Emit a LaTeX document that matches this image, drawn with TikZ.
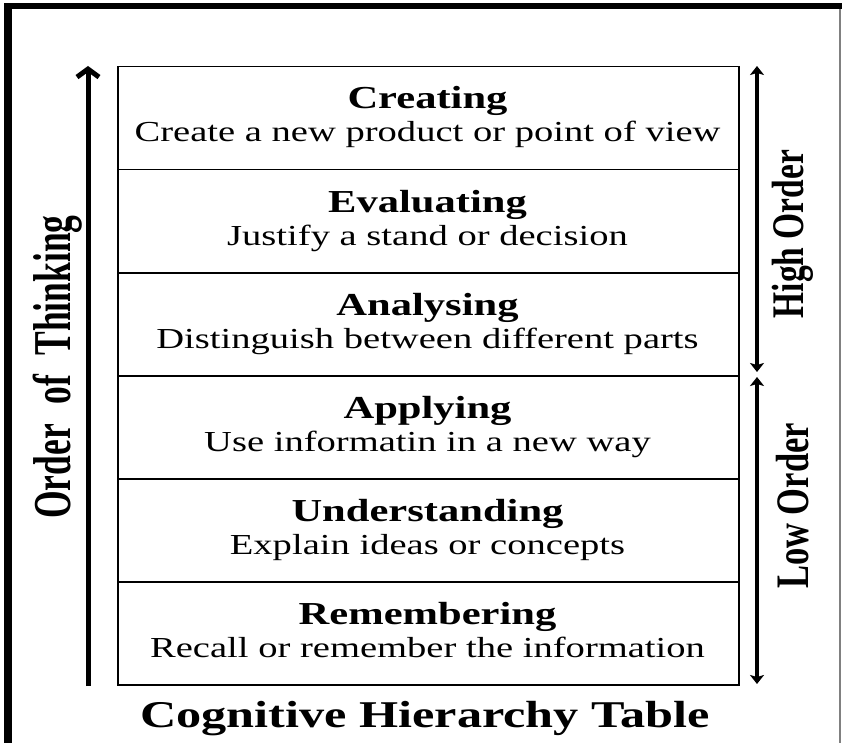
\documentclass[tikz,border=0pt]{standalone}
\usepackage{fontspec}
\usepackage{graphicx}
\setmainfont{Liberation Serif}
\usetikzlibrary{arrows.meta}
\newcommand\hstretch[1]{\scalebox{1.33}[1]{#1}}
\begin{document}
\begin{tikzpicture}[x=1pt,y=-1pt,
  rowbox/.style={draw=black,line width=1.5pt,minimum width=621pt,minimum height=103pt,anchor=north west,inner sep=0pt},
  ttl/.style={font=\fontsize{32}{36}\selectfont\bfseries,anchor=base,inner sep=0pt},
  sub/.style={font=\fontsize{29}{33}\selectfont,anchor=base,inner sep=0pt},
  vlab/.style={rotate=90,inner sep=0pt},
  bigarrow/.style={line width=5pt,-{Straight Barb[length=8pt,width=22pt]}},
  sidearrow/.style={line width=4.5pt,{Stealth[length=9pt,width=14pt,inset=2pt]}-{Stealth[length=9pt,width=14pt,inset=2pt]}}
]
\useasboundingbox (0,0) rectangle (842,743);
% outer frame
\fill[black] (4,4) rectangle (12,743);
\fill[black] (4,3) rectangle (842,9);
\draw[gray,line width=1.2pt] (840,9) -- (840,743);

% rows
\node[rowbox] (r1) at (117,66) {};
\node[rowbox] (r2) at (117,169) {};
\node[rowbox] (r3) at (117,272) {};
\node[rowbox] (r4) at (117,375) {};
\node[rowbox] (r5) at (117,478) {};
\node[rowbox] (r6) at (117,581) {};

\node[ttl] (t1) at (427.5,109) {\hstretch{Creating}};
\node[sub] (s1) at (427.5,142) {\hstretch{Create a new product or point of view}};
\node[ttl] (t2) at (427.5,212) {\hstretch{Evaluating}};
\node[sub] (s2) at (427.5,245) {\hstretch{Justify a stand or decision}};
\node[ttl] (t3) at (427.5,315) {\hstretch{Analysing}};
\node[sub] (s3) at (427.5,348) {\hstretch{Distinguish between different parts}};
\node[ttl] (t4) at (427.5,418) {\hstretch{Applying}};
\node[sub] (s4) at (427.5,451) {\hstretch{Use informatin in a new way}};
\node[ttl] (t5) at (427.5,521) {\hstretch{Understanding}};
\node[sub] (s5) at (427.5,554) {\hstretch{Explain ideas or concepts}};
\node[ttl] (t6) at (427.5,624) {\hstretch{Remembering}};
\node[sub] (s6) at (427.5,657) {\hstretch{Recall or remember the information}};

% title
\node[font=\fontsize{37.8}{42}\selectfont\bfseries,anchor=base,inner sep=0pt] (title) at (425,727) {\hstretch{Cognitive Hierarchy Table}};

% left arrow
\coordinate (lb) at (88,686);
\coordinate (lt) at (88,66);
\draw[bigarrow] (lb) -- (lt);
\node[vlab,font=\fontsize{35.5}{40}\selectfont\bfseries] (ot) at (58,367) {\scalebox{1}[1.5]{Order\hspace{0.3em} of\hspace{0.3em} Thinking}};

% right arrows
\coordinate (ha) at (757,66);
\coordinate (hb) at (757,372);
\coordinate (la) at (757,377);
\coordinate (lo) at (757,684);
\draw[sidearrow] (ha) -- (hb);
\draw[sidearrow] (la) -- (lo);
\node[vlab,font=\fontsize{33.5}{38}\selectfont\bfseries] (ho) at (793,234) {\scalebox{1}[1.35]{High Order}};
\node[vlab,font=\fontsize{34.5}{38}\selectfont\bfseries] (lord) at (793,506) {\scalebox{1}[1.35]{Low Order}};
\end{tikzpicture}
\end{document}
